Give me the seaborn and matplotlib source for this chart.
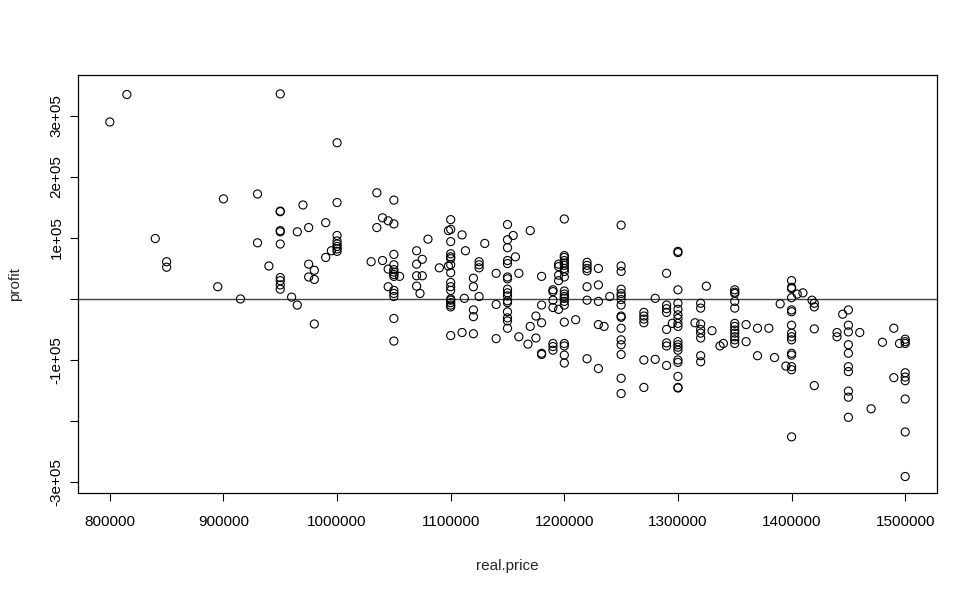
import matplotlib
matplotlib.use("Agg")
import matplotlib.pyplot as plt
import seaborn as sns
import pandas as pd

real_price = [
    815000, 800000, 950000, 900000, 930000, 970000, 950000, 950000, 950000, 950000,
    965000, 975000, 840000, 930000, 950000, 850000, 850000, 940000, 975000, 980000,
    975000, 980000, 950000, 950000, 950000, 950000, 895000, 915000, 960000, 965000,
    980000,
    1000000, 1035000, 1000000, 1050000, 990000, 1040000, 1035000, 1045000, 1050000, 1000000,
    1000000, 1000000, 1000000, 1000000, 1000000, 995000, 990000, 1030000, 1040000, 1050000,
    1050000, 1050000, 1050000, 1050000, 1050000, 1045000, 1055000, 1045000, 1050000, 1050000,
    1050000, 1070000, 1075000, 1070000, 1070000, 1075000, 1070000, 1073000, 1080000, 1090000,
    1098000, 1100000, 1100000, 1098000, 1100000, 1100000, 1100000, 1100000, 1100000, 1100000,
    1100000, 1100000, 1100000, 1100000, 1110000, 1113000, 1120000, 1120000, 1112000, 1125000,
    1125000, 1125000, 1125000, 1130000, 1140000, 1150000, 1155000, 1150000, 1150000, 1157000,
    1150000, 1150000, 1150000, 1150000, 1150000, 1150000, 1150000, 1160000,
    1050000, 1050000, 1100000, 1100000, 1100000, 1100000, 1100000, 1110000, 1120000, 1120000,
    1120000, 1140000, 1140000, 1150000, 1150000, 1150000, 1150000, 1150000, 1150000, 1160000,
    1170000, 1180000, 1200000, 1200000, 1200000, 1200000, 1200000, 1200000, 1200000, 1200000,
    1200000, 1195000, 1195000, 1195000, 1195000, 1190000, 1190000, 1200000, 1200000, 1200000,
    1220000, 1220000, 1220000, 1220000, 1230000, 1220000, 1230000, 1240000, 1250000, 1250000,
    1250000, 1250000, 1250000, 1250000, 1290000, 1300000, 1300000, 1300000, 1325000, 1280000,
    1168000, 1170000, 1175000, 1175000, 1180000, 1180000, 1180000, 1180000, 1190000, 1190000,
    1190000, 1190000, 1190000, 1195000, 1200000, 1200000, 1200000, 1200000, 1200000, 1200000,
    1200000, 1200000, 1210000, 1220000, 1220000, 1230000, 1230000, 1235000, 1230000, 1250000,
    1250000, 1250000, 1250000, 1250000, 1250000, 1250000, 1250000, 1250000, 1250000, 1270000,
    1270000, 1270000, 1270000, 1270000, 1280000, 1270000, 1290000, 1290000, 1290000, 1290000,
    1290000, 1290000, 1290000, 1295000, 1300000, 1300000, 1300000, 1300000, 1300000, 1300000,
    1300000, 1300000, 1300000, 1300000, 1300000, 1300000, 1300000, 1300000, 1300000, 1315000,
    1320000, 1320000, 1320000, 1320000, 1320000, 1320000, 1320000, 1320000, 1330000,
    1350000, 1350000, 1350000, 1400000, 1400000, 1400000, 1400000, 1405000, 1410000, 1418000,
    1420000, 1420000, 1337000, 1340000, 1350000, 1350000, 1350000, 1350000, 1350000, 1350000,
    1350000, 1350000, 1350000, 1360000, 1360000, 1370000, 1370000, 1380000, 1385000, 1390000,
    1395000, 1400000, 1400000, 1400000, 1400000, 1400000, 1400000, 1400000, 1400000, 1400000,
    1400000, 1400000, 1420000, 1420000, 1440000, 1440000, 1445000, 1450000, 1450000, 1450000,
    1450000, 1450000, 1450000, 1450000, 1450000, 1450000, 1450000, 1460000, 1470000, 1480000,
    1490000, 1490000, 1495000, 1500000, 1500000, 1500000, 1500000, 1500000, 1500000, 1500000,
    1500000, 1500000,
]

profit = [
    335000, 290000, 336000, 164000, 172000, 154000, 144000, 143000, 112000, 110000,
    110000, 117000, 99000, 92000, 90000, 61000, 52000, 54000, 57000, 47000,
    36000, 32000, 35000, 30000, 23000, 16000, 20000, 0, 3000, -10000,
    -41000,
    256000, 174000, 158000, 162000, 125000, 133000, 117000, 128000, 123000, 104000,
    95000, 90000, 86000, 82000, 78000, 79000, 68000, 61000, 63000, 73000,
    56000, 48000, 44000, 40000, 37000, 49000, 37000, 20000, 14000, 9000,
    4000, 79000, 65000, 57000, 38000, 38000, 21000, 9000, 98000, 51000,
    112000, 114000, 130000, 54000, 94000, 74000, 69000, 66000, 56000, 43000,
    27000, 20000, 14000, 0, 105000, 79000, 34000, 20000, 1000, 61000,
    56000, 51000, 4000, 91000, 42000, 122000, 104000, 97000, 84000, 69000,
    63000, 58000, 36000, 33000, 16000, 10000, 5000, 42000,
    -32000, -69000, -2000, -6000, -10000, -13000, -60000, -55000, -18000, -29000,
    -57000, -9000, -65000, -3000, -6000, -21000, -31000, -36000, -48000, -62000,
    112000, 37000, 131000, 71000, 68000, 63000, 59000, 55000, 50000, 45000,
    36000, 57000, 53000, 39000, 30000, 15000, 12000, 13000, 8000, 4000,
    60000, 55000, 50000, 46000, 50000, 20000, 23000, 4000, 121000, 54000,
    45000, 16000, 9000, 5000, 42000, 78000, 76000, 15000, 21000, 1000,
    -74000, -45000, -64000, -28000, -10000, -39000, -89000, -91000, -2000, -14000,
    -73000, -78000, -84000, -17000, 1000, -4000, -10000, -38000, -73000, -77000,
    -92000, -105000, -34000, -2000, -98000, -4000, -42000, -45000, -114000, -1000,
    -10000, -28000, -30000, -48000, -67000, -75000, -91000, -130000, -155000, -22000,
    -28000, -33000, -39000, -100000, -99000, -145000, -10000, -16000, -22000, -50000,
    -72000, -77000, -109000, -40000, -7000, -17000, -26000, -32000, -40000, -45000,
    -70000, -75000, -79000, -84000, -100000, -104000, -127000, -146000, -145000, -39000,
    -7000, -15000, -41000, -50000, -56000, -64000, -93000, -103000, -52000,
    15000, 11000, 9000, 30000, 19000, 17000, 2000, 8000, 10000, -2000,
    -7000, -13000, -77000, -73000, -4000, -15000, -40000, -45000, -51000, -56000,
    -62000, -67000, -73000, -42000, -70000, -48000, -93000, -48000, -96000, -8000,
    -110000, -18000, -21000, -43000, -56000, -62000, -67000, -89000, -92000, -111000,
    -116000, -226000, -49000, -142000, -55000, -62000, -25000, -18000, -43000, -54000,
    -75000, -89000, -111000, -119000, -151000, -161000, -194000, -55000, -180000, -71000,
    -48000, -129000, -73000, -66000, -70000, -73000, -121000, -128000, -134000, -164000,
    -218000, -291000,
]

x_ticks = [800000, 900000, 1000000, 1100000, 1200000, 1300000, 1400000, 1500000]
x_tick_labels = ["800000", "900000", "1000000", "1100000", "1200000", "1300000", "1400000", "1500000"]
y_ticks = [-300000, -200000, -100000, 0, 100000, 200000, 300000]
y_tick_labels = ["-3e+05", "", "-1e+05", "", "1e+05", "2e+05", "3e+05"]
x_limits = (772000, 1528000)
y_limits = (-318000, 367000)

df = pd.DataFrame({"real.price": real_price, "profit": profit})

sns.set_style("white")
plt.rcParams["font.family"] = ["Liberation Sans", "DejaVu Sans"]

fig = plt.figure(figsize=(9.78, 5.90), dpi=100)
ax = fig.add_axes([78 / 978, 1 - 493 / 590, (937 - 78) / 978, (493 - 75) / 590])

sns.scatterplot(data=df, x="real.price", y="profit", ax=ax, marker="o",
                s=34, facecolor="none", edgecolor="black", linewidth=0.8, zorder=3)
ax.axhline(0, color="#444444", linewidth=1.0, zorder=2)

ax.set_xlim(*x_limits)
ax.set_ylim(*y_limits)
ax.set_xticks(x_ticks)
ax.set_xticklabels(x_tick_labels)
ax.set_yticks(y_ticks)
ax.set_yticklabels(y_tick_labels, rotation=90, va="center")

ax.tick_params(axis="both", direction="out", length=5.5, width=0.8, color="black",
               labelsize=11, labelcolor="black", bottom=True, left=True)
ax.tick_params(axis="x", pad=10)
ax.tick_params(axis="y", pad=5)

for sp in ax.spines.values():
    sp.set_color("black")
    sp.set_linewidth(0.9)
    sp.set_visible(True)

ax.set_xlabel("real.price", fontsize=11, labelpad=22)
ax.set_ylabel("profit", fontsize=11, labelpad=20)
ax.grid(False)

fig.savefig("out.png", dpi=100, facecolor="white")
